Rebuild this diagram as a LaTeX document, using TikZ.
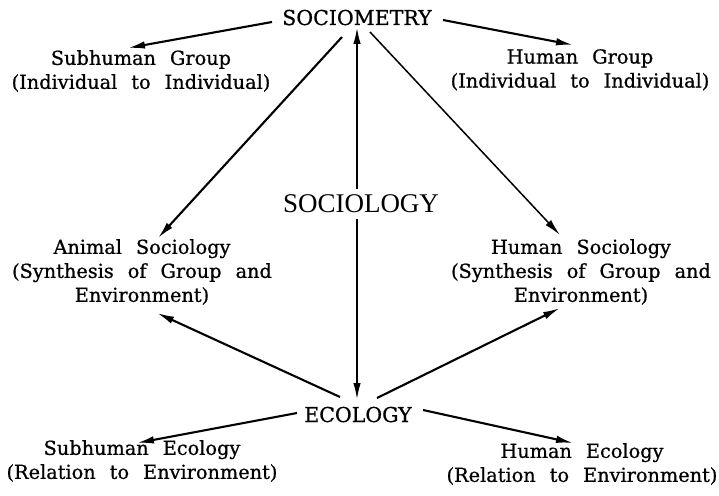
\documentclass[tikz,border=0pt]{standalone}
\usepackage{fontspec}
\setmainfont{DejaVu Serif}[FakeBold=0.6]
\usetikzlibrary{arrows.meta}
\newfontfamily\bigfam{Liberation Serif}
\newfontfamily\lblfam{DejaVu Serif}[FakeBold=0.8]
\tikzset{
  arr/.style={-{Latex[length=17pt,width=7.5pt]}, line width=2.1pt},
  thinarr/.style={arr, line width=1.5pt},
  lbl/.style={font={\lblfam\fontsize{19.3}{24}\selectfont\spaceskip=14pt plus 2pt\relax}, align=center, inner sep=0pt, anchor=north},
  cap/.style={font={\lblfam\fontsize{#1}{#1}\selectfont}, inner sep=0pt, anchor=base},
}
\begin{document}
\begin{tikzpicture}[x=1pt,y=-1pt]
\useasboundingbox (0,0) rectangle (719,495);
% main nodes
\node[cap=20.5] (socm) at (357,25) {SOCIOMETRY};
\node[font={\bigfam\fontsize{27}{27}\selectfont}, inner sep=6pt] (socl) at (361,204) {SOCIOLOGY};
\node[cap=20.5] (eco) at (358,422) {ECOLOGY};
% labels
\node[lbl] (sg) at (141,50) {Subhuman Group\\(Individual to Individual)};
\node[lbl] (hg) at (580,49) {Human Group\\(Individual to Individual)};
\node[lbl] (as) at (142,239) {Animal Sociology\\(Synthesis of Group and\\Environment)};
\node[lbl] (hs) at (581,239) {Human Sociology\\(Synthesis of Group and\\Environment)};
\node[lbl] (se) at (142,440) {Subhuman Ecology\\(Relation to Environment)};
\node[lbl] (he) at (582,443) {Human Ecology\\(Relation to Environment)};
% connector ends
\coordinate (smL) at (272,22);
\coordinate (smR) at (443,20);
\coordinate (smDL) at (342,37);
\coordinate (smDR) at (370,32);
\coordinate (smTop) at (357,27);
\coordinate (ecTop) at (357,400);
\coordinate (ecUL) at (340,397);
\coordinate (ecUR) at (377,398);
\coordinate (ecL) at (297,413);
\coordinate (ecR) at (423,410);
\coordinate (sgIn) at (128,48);
\coordinate (hgIn) at (573,45);
\coordinate (asTop) at (158,238);
\coordinate (hsTop) at (560,235);
\coordinate (asBot) at (157,313);
\coordinate (hsBot) at (560,308);
\coordinate (seIn) at (137,443);
\coordinate (heIn) at (573,443);
% connectors
\draw[arr] (smL) -- (sgIn);
\draw[arr] (smR) -- (hgIn);
\draw[arr] (smDL) -- (asTop);
\draw[thinarr] (smDR) -- (hsTop);
\draw[arr] (smTop |- socl.north) -- (smTop);
\draw[arr] (smTop |- socl.south) -- (ecTop);
\draw[arr] (ecUL) -- (asBot);
\draw[arr] (ecUR) -- (hsBot);
\draw[arr] (ecL) -- (seIn);
\draw[arr] (ecR) -- (heIn);
\end{tikzpicture}
\end{document}
